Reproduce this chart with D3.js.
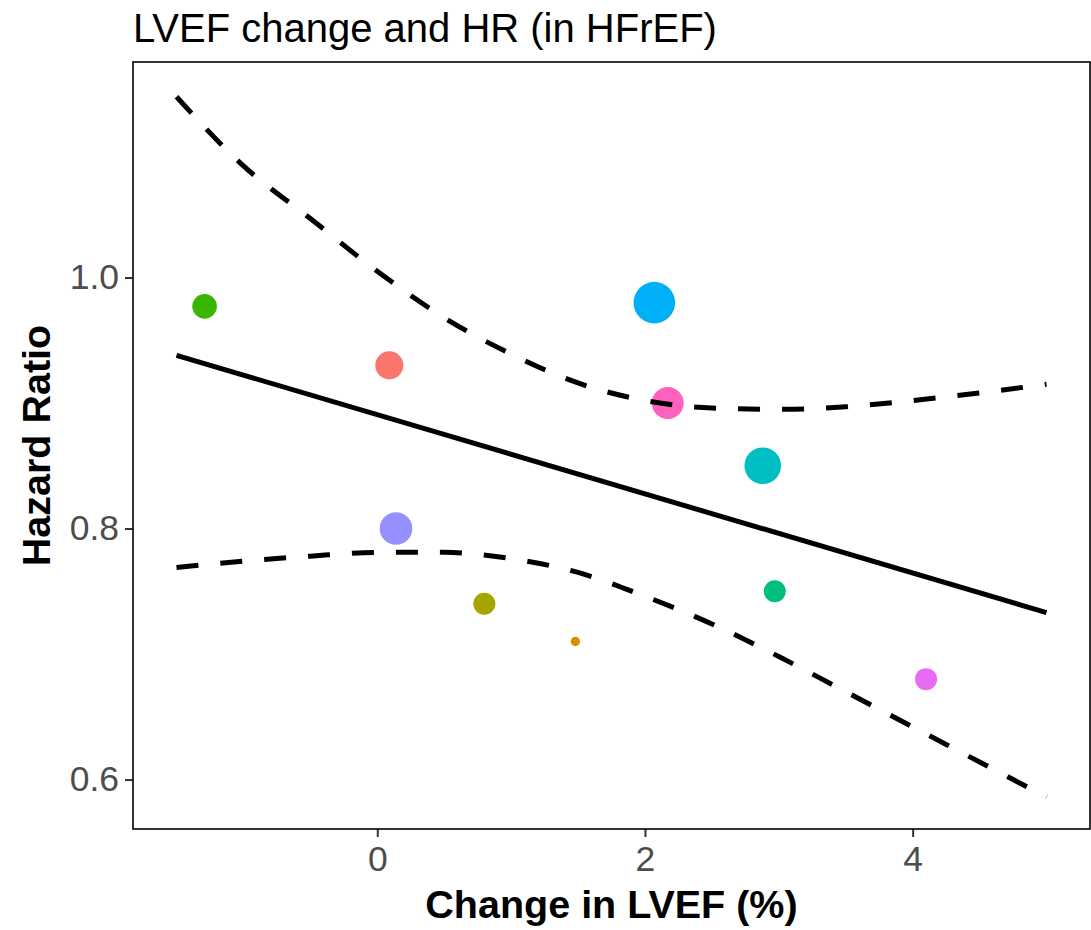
<!DOCTYPE html>
<html>
<head>
<meta charset="utf-8">
<script src="https://cdn.jsdelivr.net/npm/d3@7"></script>
<style>
  body { margin: 0; background: #ffffff; }
  text { font-family: 'Liberation Sans', Arial, sans-serif; }
</style>
</head>
<body>
<div id="hrplot"></div>
<script>
// study points (change in LVEF vs hazard ratio), one colour per study
const studyLvef = [-1.29, 0.09, 2.07, 2.17, 2.88, 0.14, 0.80, 1.48, 2.97, 4.10];
const studyHr = [0.977, 0.93, 0.98, 0.90, 0.85, 0.80, 0.74, 0.71, 0.75, 0.68];
const studyWeight = [7.0, 9.1, 20.0, 11.8, 15.5, 12.3, 5.6, 1.0, 5.6, 5.6];
const studyColor = ['#39B600', '#F8766D', '#00B0F6', '#FF62BC', '#00BFC4', '#9590FF', '#A3A500', '#D89000', '#00BF7D', '#E76BF3'];

// meta-regression fit and its confidence band
const fitX = [-1.5, 5];
const fitHr = [0.938, 0.733];
const bandX = [-1.5, -1, -0.5, 0, 0.5, 1, 1.5, 2, 2.5, 3, 3.5, 4, 4.5, 5];
const bandUpper = [1.144, 1.089, 1.047, 1.005, 0.968, 0.939, 0.916, 0.902, 0.896, 0.895, 0.897, 0.902, 0.908, 0.915];
const bandLower = [0.769, 0.774, 0.778, 0.781, 0.781, 0.776, 0.765, 0.746, 0.724, 0.698, 0.670, 0.642, 0.614, 0.586];

const xTicks = [0, 2, 4];
const yTicks = [0.6, 0.8, 1.0];

const width = 1091;
const height = 930;
const panel = { left: 133, right: 1090, top: 62, bottom: 829 };

const svg = d3.select('#hrplot')
  .append('svg')
  .attr('width', width)
  .attr('height', height)
  .attr('style', 'background-color:white');

const xScale = d3.scaleLinear().domain([-1.825, 5.325]).range([panel.left, panel.right]);
const yScale = d3.scaleLinear().domain([0.5606, 1.1717]).range([panel.bottom, panel.top]);
const rScale = d3.scaleSqrt().domain([0, d3.max(studyWeight)]).range([0, 20.8]);

// title
svg.append('text')
  .attr('x', panel.left)
  .attr('y', 42)
  .attr('font-size', 40)
  .attr('fill', '#000')
  .text('LVEF change and HR (in HFrEF)');

// axes
const xAxis = d3.axisBottom(xScale).tickValues(xTicks).tickFormat(d3.format('d')).tickSize(8).tickPadding(6);
const yAxis = d3.axisLeft(yScale).tickValues(yTicks).tickFormat(d3.format('.1f')).tickSize(8).tickPadding(6);

const gx = svg.append('g').attr('transform', 'translate(0,' + panel.bottom + ')').call(xAxis);
const gy = svg.append('g').attr('transform', 'translate(' + panel.left + ',0)').call(yAxis);
[gx, gy].forEach(function(g) {
  g.select('.domain').remove();
  g.selectAll('.tick line').attr('stroke', '#333333').attr('stroke-width', 2);
  g.selectAll('.tick text')
    .attr('font-size', 35.5)
    .attr('fill', '#4D4D4D')
    .attr('font-family', "'Liberation Sans', Arial, sans-serif");
});
gx.selectAll('.tick text').attr('dy', '0.78em');

// panel border
svg.append('rect')
  .attr('x', panel.left)
  .attr('y', panel.top)
  .attr('width', panel.right - panel.left)
  .attr('height', panel.bottom - panel.top)
  .attr('fill', 'none')
  .attr('stroke', '#000')
  .attr('stroke-width', 1.6);

// axis titles
svg.append('text')
  .attr('x', (panel.left + panel.right) / 2)
  .attr('y', 918)
  .attr('text-anchor', 'middle')
  .attr('font-size', 39.5)
  .attr('font-weight', 'bold')
  .text('Change in LVEF (%)');

svg.append('text')
  .attr('transform', 'translate(50,' + (panel.top + panel.bottom) / 2 + ') rotate(-90)')
  .attr('text-anchor', 'middle')
  .attr('font-size', 39.5)
  .attr('font-weight', 'bold')
  .text('Hazard Ratio');

// points
const pointData = studyLvef.map(function(d, i) {
  return { x: d, y: studyHr[i], w: studyWeight[i], color: studyColor[i] };
});
svg.append('g')
  .selectAll('circle')
  .data(pointData)
  .enter()
  .append('circle')
  .attr('cx', function(d) { return xScale(d.x); })
  .attr('cy', function(d) { return yScale(d.y); })
  .attr('r', function(d) { return rScale(d.w); })
  .style('fill', function(d) { return d.color; });

// regression line and confidence band
const line = d3.line()
  .x(function(d) { return xScale(d[0]); })
  .y(function(d) { return yScale(d[1]); })
  .curve(d3.curveMonotoneX);

svg.append('path')
  .datum(fitX.map(function(d, i) { return [d, fitHr[i]]; }))
  .attr('d', line)
  .attr('fill', 'none')
  .attr('stroke', '#000')
  .attr('stroke-width', 5);

[bandUpper, bandLower].forEach(function(band) {
  svg.append('path')
    .datum(bandX.map(function(d, i) { return [d, band[i]]; }))
    .attr('d', line)
    .attr('fill', 'none')
    .attr('stroke', '#000')
    .attr('stroke-width', 5)
    .attr('stroke-dasharray', '22,22');
});
</script>
</body>
</html>
